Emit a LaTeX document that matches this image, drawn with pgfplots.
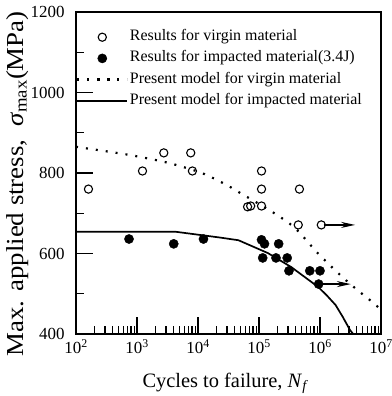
\documentclass[border=0pt]{standalone}
\usepackage{fontspec}
\setmainfont{Liberation Serif}
\usepackage{pgfplots}
\pgfplotsset{compat=1.18}
\usetikzlibrary{arrows.meta}
\begin{document}
\begin{tikzpicture}
\pgfplotsset{mylegend/.style={legend image code/.code={\draw[##1,mark repeat=2,mark phase=2] plot coordinates {(0bp,0bp) (25bp,0bp) (50bp,0bp)};}}}
\begin{axis}[
  scale only axis, width=305bp, height=322bp,
  xmode=log, xmin=1e2, xmax=1e7, ymin=400, ymax=1200,
  xtick={1e2,1e3,1e4,1e5,1e6,1e7},
  xticklabels={10\textsuperscript{2},10\textsuperscript{3},10\textsuperscript{4},10\textsuperscript{5},10\textsuperscript{6},10\textsuperscript{7}},
  minor xtick={200,300,400,500,600,700,800,900,2000,3000,4000,5000,6000,7000,8000,9000,2e4,3e4,4e4,5e4,6e4,7e4,8e4,9e4,2e5,3e5,4e5,5e5,6e5,7e5,8e5,9e5,2e6,3e6,4e6,5e6,6e6,7e6,8e6,9e6},
  ytick={400,600,800,1000,1200}, minor ytick={500,700,900,1100},
  tick align=inside, xtick pos=bottom, ytick pos=left,
  axis line style={line width=1.4bp},
  major tick length=17bp, minor tick length=8bp,
  every major tick/.append style={line width=1.6bp, draw=black, solid},
  every minor tick/.append style={line width=1.3bp, draw=black, solid},
  /pgf/number format/assume math mode=true,
  /pgf/number format/1000 sep={},
  tick label style={font=\fontsize{17}{20}\selectfont},
  yticklabel style={xshift=-8bp},
  xticklabel style={yshift=-2bp},
  every axis x label/.style={at={(axis description cs:0.49,-0.165)}, anchor=base, font=\fontsize{20.5}{24}\selectfont},
  every axis y label/.style={at={(axis description cs:-0.193,0.466)}, anchor=center, rotate=90, font=\fontsize{24.5}{28}\selectfont},
  xlabel={Cycles to failure, \textit{N}\textsubscript{\textit{f}}},
  ylabel={\scalebox{1.1}[1.0]{Max. applied stress,\enspace{\itshape σ}\textsubscript{max}(MPa)}},
  legend style={at={(axis description cs:0,1)}, anchor=north west, yshift=-16bp, draw=none, fill=none,
    font=\fontsize{16}{19}\selectfont, inner sep=0bp, row sep=3.2bp,
    nodes={inner sep=1.5bp, text height=11bp, text depth=4bp}},
  legend cell align=left,
]
\addplot[only marks, mark=o, mark size=4.1bp, line width=1.1bp, mylegend] coordinates {
(160,760) (1230,805) (2750,850) (7600,850) (8100,805) (6.5e4,716) (7.3e4,718) (1.1e5,718) (1.1e5,805) (1.1e5,760) (4.4e5,671) (4.6e5,760) (1.05e6,671)
};
\addlegendentry{Results for virgin material}
\addplot[only marks, mark=*, mark size=4.6bp, mylegend] coordinates {
(740,636) (4000,624) (1.23e4,636) (1.1e5,634) (1.23e5,624) (1.15e5,589) (2.1e5,624) (1.9e5,589) (2.9e5,589) (3.1e5,557) (6.8e5,557) (1.0e6,557) (9.5e5,524)
};
\addlegendentry{Results for impacted material(3.4J)}
\addplot[black, line width=2.2bp, dash pattern=on 2bp off 8bp, smooth, mylegend] coordinates {
(1e2,865) (7.4e2,845) (3.3e3,825) (1.15e4,800) (2.8e4,772) (4.6e4,753) (1.7e5,702) (3.9e5,663) (9.3e5,600) (2.2e6,545) (3.9e6,512) (7.4e6,478) (1e7,460)
};
\addlegendentry{Present model for virgin material}
\addplot[black, line width=1.7bp, mylegend] coordinates {
(1e2,654) (4.3e3,654) (2.2e4,640) (4.6e4,633) (1.4e5,601) (3.4e5,566) (9.3e5,517) (1.29e6,496) (1.8e6,472) (2.35e6,443) (3.1e6,410) (3.5e6,400)
};
\addlegendentry{Present model for impacted material}
\addplot[black, line width=1.3bp, -{Stealth[length=14bp,width=6bp]}, forget plot] coordinates {(1.15e6,671) (3.76e6,671)};
\addplot[black, line width=1.3bp, -{Stealth[length=14bp,width=6bp]}, forget plot] coordinates {(1.05e6,524) (3.2e6,524)};
\coordinate (bl) at (axis description cs:0,0);
\coordinate (tr) at (axis description cs:1,1);
\end{axis}
\pgfresetboundingbox
\path ([shift={(-76bp,-62bp)}]bl) rectangle ([shift={(11bp,12bp)}]tr);
\end{tikzpicture}
\end{document}
